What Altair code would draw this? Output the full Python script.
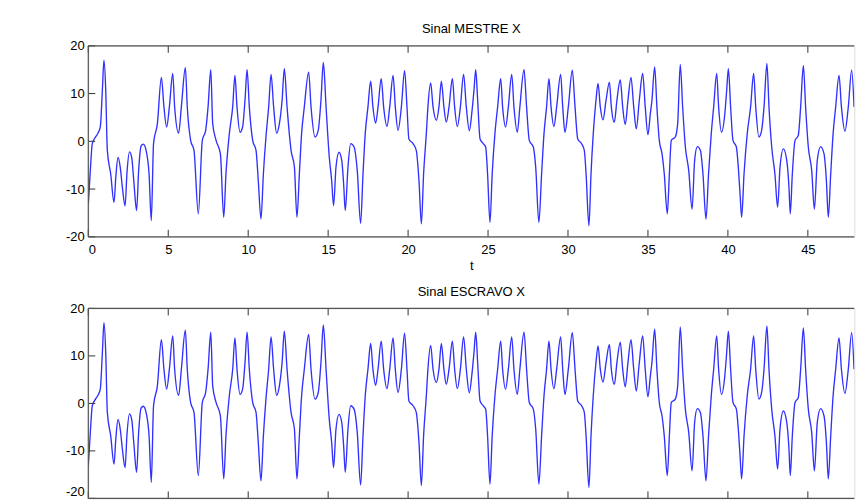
import altair as alt
import pandas as pd

# values (time t, signal X)
t_values = [
    0.00, 0.12, 0.25, 0.45, 0.62, 0.75, 0.88, 0.98, 1.09, 1.19, 1.40, 1.61, 1.72, 1.86, 2.00, 2.13,
    2.30, 2.42, 2.58, 2.72, 2.85, 3.02, 3.15, 3.30, 3.44, 3.62, 3.80, 3.94, 4.08, 4.32, 4.57,
    4.73, 4.90, 5.07, 5.28, 5.40, 5.65, 5.82, 6.07, 6.19, 6.40, 6.61, 6.88, 7.13, 7.34, 7.49,
    7.66, 7.78, 7.99, 8.26, 8.47, 8.61, 8.82, 9.03, 9.17, 9.30, 9.49, 9.65, 9.80, 9.93, 10.07,
    10.28, 10.49, 10.63, 10.80, 10.95, 11.11, 11.28, 11.43, 11.59, 11.78, 11.95, 12.12, 12.26,
    12.43, 12.68, 12.89, 13.05, 13.20, 13.34, 13.51, 13.78, 13.93, 14.18, 14.38, 14.55, 14.70,
    14.87, 15.07, 15.22, 15.34, 15.49, 15.68, 15.85, 15.97, 16.07, 16.24, 16.41, 16.62, 16.82,
    17.03, 17.18, 17.32, 17.49, 17.66, 17.80, 17.97, 18.12, 18.32, 18.47, 18.68, 18.85, 19.06,
    19.20, 19.37, 19.58, 19.78, 19.93, 20.05, 20.31, 20.51, 20.68, 20.83, 20.97, 21.14, 21.24,
    21.41, 21.56, 21.77, 21.93, 22.08, 22.24, 22.39, 22.56, 22.77, 22.91, 23.08, 23.27, 23.47,
    23.64, 23.83, 23.98, 24.12, 24.23, 24.35, 24.50, 24.70, 24.85, 24.97, 25.12, 25.26, 25.43,
    25.60, 25.79, 25.91, 26.10, 26.27, 26.48, 26.62, 26.83, 26.99, 27.25, 27.41, 27.58, 27.83,
    27.98, 28.18, 28.35, 28.50, 28.66, 28.81, 28.94, 29.12, 29.29, 29.54, 29.67, 29.81, 30.02,
    30.27, 30.44, 30.61, 30.85, 31.02, 31.13, 31.31, 31.44, 31.58, 31.75, 31.88, 32.02, 32.19,
    32.38, 32.59, 32.71, 32.90, 33.06, 33.27, 33.42, 33.58, 33.75, 33.94, 34.11, 34.27, 34.46,
    34.67, 34.83, 35.00, 35.15, 35.25, 35.42, 35.56, 35.71, 35.88, 36.02, 36.21, 36.34, 36.46,
    36.71, 36.86, 37.02, 37.17, 37.34, 37.55, 37.76, 37.92, 38.09, 38.28, 38.44, 38.63, 38.79,
    38.96, 39.11, 39.30, 39.42, 39.60, 39.80, 39.92, 40.03, 40.17, 40.32, 40.53, 40.65, 40.76,
    40.86, 41.01, 41.21, 41.42, 41.61, 41.74, 41.94, 42.11, 42.26, 42.44, 42.57, 42.74, 42.94,
    43.11, 43.26, 43.47, 43.68, 43.82, 43.90, 44.03, 44.20, 44.40, 44.55, 44.72, 44.86, 45.03,
    45.24, 45.41, 45.59, 45.80, 46.01, 46.16, 46.28, 46.43, 46.58, 46.74, 46.95, 47.10, 47.32,
    47.53, 47.74, 47.89,
]

x_mestre = [
    -13.1, -6.5, -0.5, 0.9, 1.8, 3.0, 10.7, 17.0, 10.7, -1.9, -6.8, -12.8, -7.5, -3.4, -5.5, -9.6,
    -13.5, -6.5, -2.2, -3.5, -8.5, -14.5, -6.0, -1.0, -0.6, -2.0, -6.8, -16.6, -0.5, 3.7, 13.4,
    7.2, 3.0, 7.2, 14.2, 7.2, 1.7, 7.2, 15.4, 7.2, 0.2, -1.9, -15.2, 0.2, 2.3, 7.2,
    15.0, 3.7, 0.2, -2.6, -15.9, -6.8, 1.6, 7.2, 13.8, 7.2, 1.9, 3.0, 8.6, 15.0, 7.2,
    0.2, -1.9, -8.2, -16.3, -6.8, 0.9, 7.2, 14.0, 7.2, 1.7, 3.7, 8.6, 15.2,
    7.2, -1.9, -5.4, -15.9, -6.8, 1.6, 7.2, 14.5, 7.2, 0.9, 2.3, 8.6, 16.5,
    7.2, -3.3, -8.2, -13.5, -5.4, -2.3, -4.0, -9.0, -14.5, -5.4, -0.5, -1.2, -6.1,
    -17.2, -6.8, 1.6, 7.2, 12.6, 7.2, 3.8, 7.2, 13.1, 7.2, 3.1, 7.2, 13.8,
    7.2, 2.3, 7.2, 14.8, 7.2, 0.5, -0.5, -1.9, -8.2, -17.3, -6.8, 1.6, 7.2,
    12.2, 7.2, 4.4, 7.2, 12.6, 7.2, 4.0, 7.2, 13.1, 7.2, 3.1, 7.2, 14.0,
    7.2, 2.2, 5.8, 10.7, 15.0, 8.6, 0.5, -0.5, -1.2, -6.8, -17.0, -6.8, 1.6,
    7.2, 13.1, 7.2, 3.0, 7.2, 14.0, 7.2, 1.9, 7.2, 15.0, 7.2, 0.2, -1.2,
    -5.4, -17.0, -6.8, 1.6, 7.2, 13.1, 7.2, 3.1, 7.2, 14.0, 7.2, 1.9, 7.2,
    14.9, 7.2, 0.5, -0.5, -1.9, -6.8, -17.7, -6.8, 1.6, 8.6, 12.1, 7.2, 4.5,
    8.6, 12.4, 7.2, 4.0, 8.6, 12.9, 7.2, 3.5, 8.6, 13.4, 7.2, 2.6, 8.6,
    14.2, 7.2, 1.4, 5.8, 8.6, 15.6, 7.2, 0.2, -2.6, -6.8, -15.2, -6.8, 0.2,
    0.9, 3.7, 16.1, 7.2, -1.2, -6.1, -14.2, -4.0, -1.1, -1.9, -6.8, -16.3, -6.8,
    1.6, 7.2, 14.2, 7.2, 1.9, 5.5, 10.5, 15.2, 7.2, 0.2, -1.2, -5.4, -11.0,
    -15.9, -6.8, 1.6, 7.2, 14.2, 7.2, 0.9, 2.3, 7.2, 16.3, 7.2, -1.2, -6.8,
    -13.8, -5.4, -1.6, -4.0, -9.6, -15.2, -6.8, 0.2, 1.2, 7.2, 15.9, 7.2, -1.2,
    -6.1, -14.2, -4.0, -1.1, -2.6, -8.2, -15.9, -6.8, 1.6, 7.2, 13.8, 7.2, 2.1,
    7.2, 14.9, 7.2,
]

# the slave signal is synchronised: it reads the same off the picture
x_escravo = list(x_mestre)

x_tick_values = [0, 5, 10, 15, 20, 25, 30, 35, 40, 45]
y_tick_values = [-20, -10, 0, 10, 20]
x_visible = [0, 47.905]

FONT = "Liberation Sans"
FRAME = "#555555"
TICKC = "#333333"
LINE = "#3030ff"
W = 766
TICK = 7
LABEL_EXPR = "datum.value < 0 ? '-' + abs(datum.value) : '' + datum.value"

xticks_df = pd.DataFrame({"v": x_tick_values})
yticks_df = pd.DataFrame({"v": y_tick_values})
one = pd.DataFrame({"d": [0]})

xscale = alt.Scale(domain=x_visible, nice=False, zero=False)
yscale = alt.Scale(domain=[-20, 20], nice=False, zero=False)


def panel(title, values, H, show_x):
    if show_x:
        xaxis = alt.Axis(values=x_tick_values, ticks=False, domain=False, grid=False,
                         labelPadding=7, labelFontSize=13, labelFont=FONT,
                         labelColor="#000", title="t", titleFont=FONT,
                         titleFontSize=13, titleFontWeight="normal",
                         titlePadding=3, titleColor="#000")
        ybase = "middle"
    else:
        xaxis = alt.Axis(values=x_tick_values, ticks=False, domain=False, grid=False,
                         labels=False, title=None)
        ybase = {"condition": {"test": "datum.value === -20", "value": "bottom"},
                 "value": "middle"}
    yaxis = alt.Axis(values=y_tick_values, ticks=False, domain=False, grid=False,
                     labelPadding=4, labelFontSize=13, labelFont=FONT,
                     labelColor="#000", title=None, labelExpr=LABEL_EXPR,
                     labelBaseline=ybase)
    df = pd.DataFrame({"t": t_values, "x": values})
    line = alt.Chart(df).mark_line(
        color=LINE, strokeWidth=1.35, interpolate="monotone", clip=True
    ).encode(
        x=alt.X("t:Q", scale=xscale, axis=xaxis),
        y=alt.Y("x:Q", scale=yscale, axis=yaxis),
    )
    top_ticks = alt.Chart(xticks_df).mark_rule(color=TICKC, strokeWidth=1).encode(
        x=alt.X("v:Q", scale=xscale, axis=xaxis), y=alt.value(0), y2=alt.value(TICK))
    bot_ticks = alt.Chart(xticks_df).mark_rule(color=TICKC, strokeWidth=1).encode(
        x=alt.X("v:Q", scale=xscale, axis=xaxis), y=alt.value(H), y2=alt.value(H - TICK))
    left_ticks = alt.Chart(yticks_df).mark_rule(color=TICKC, strokeWidth=1).encode(
        y=alt.Y("v:Q", scale=yscale, axis=yaxis), x=alt.value(0), x2=alt.value(TICK))
    frame_top = alt.Chart(one).mark_rule(color=FRAME, strokeWidth=1.2).encode(
        x=alt.value(0), x2=alt.value(W), y=alt.value(0))
    frame_bot = alt.Chart(one).mark_rule(color=FRAME, strokeWidth=1.2).encode(
        x=alt.value(0), x2=alt.value(W), y=alt.value(H))
    frame_left = alt.Chart(one).mark_rule(color=FRAME, strokeWidth=1.2).encode(
        x=alt.value(0), y=alt.value(0), y2=alt.value(H))
    return alt.layer(line, top_ticks, bot_ticks, left_ticks,
                     frame_top, frame_bot, frame_left).properties(
        width=W, height=H,
        title=alt.TitleParams(title, font=FONT, fontSize=13, fontWeight="normal",
                              color="#000", offset=3.6, anchor="middle", frame="group"),
    )


chart = alt.vconcat(
    panel("Sinal MESTRE X", x_mestre, 191, True),
    panel("Sinal ESCRAVO X", x_escravo, 190, False),
    spacing=10.6,
).properties(
    padding={"left": 64.3, "top": 21.8, "right": 0, "bottom": 0},
).configure_view(
    stroke=None
).configure(background="white")

chart.save("out.html", embed_options={"renderer": "svg", "actions": False})
